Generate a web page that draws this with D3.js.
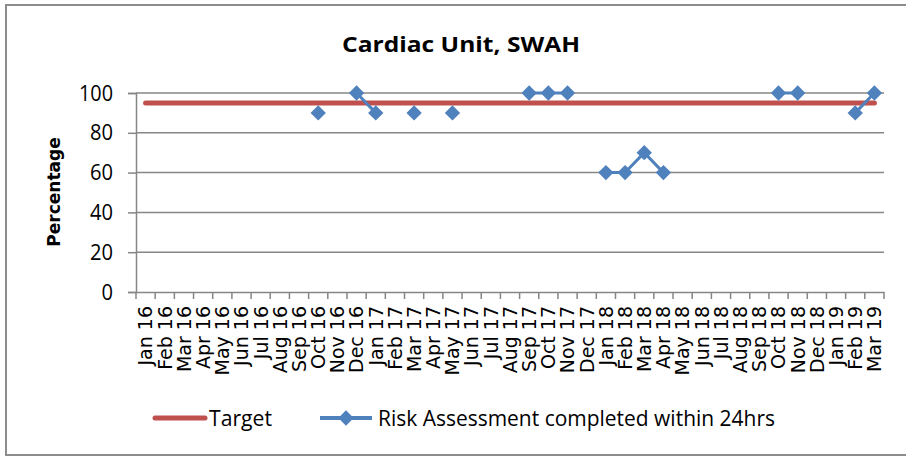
<!DOCTYPE html>
<html><head><meta charset="utf-8">
<script src="https://cdn.jsdelivr.net/npm/d3@7"></script>
<style>body{margin:0;background:#fff}svg{display:block}</style>
</head><body>
<svg id="c" width="906" height="457"></svg>
<script>
const categories = ["Jan 16","Feb 16","Mar 16","Apr 16","May 16","Jun 16","Jul 16","Aug 16","Sep 16","Oct 16","Nov 16","Dec 16",
"Jan 17","Feb 17","Mar 17","Apr 17","May 17","Jun 17","Jul 17","Aug 17","Sep 17","Oct 17","Nov 17","Dec 17",
"Jan 18","Feb 18","Mar 18","Apr 18","May 18","Jun 18","Jul 18","Aug 18","Sep 18","Oct 18","Nov 18","Dec 18",
"Jan 19","Feb 19","Mar 19"];
const riskValues = [null,null,null,null,null,null,null,null,null,90,null,100,
90,null,90,null,90,null,null,null,100,100,100,null,
60,60,70,60,null,null,null,null,null,100,100,null,
null,90,100];
const targetValues = categories.map(() => 95);
const yTicks = [0,20,40,60,80,100];
const title = "Cardiac Unit, SWAH";
const yTitle = "Percentage";
const seriesNames = ["Target","Risk Assessment completed within 24hrs"];

const svg = d3.select("#c");
svg.append("rect").attr("x",6).attr("y",5).attr("width",906).attr("height",450)
  .attr("fill","none").attr("stroke","#8c8c8c").attr("stroke-width",2);

const L=136, R=884, T=93, B=292;
const x = d3.scaleBand().domain(categories).range([L,R]).padding(0);
const y = d3.scaleLinear().domain([0,100]).range([B,T]);
const cx = d => x(d) + x.bandwidth()/2;

// gridlines
svg.append("g").selectAll("line").data(yTicks.filter(t=>t>0)).join("line")
  .attr("x1",L).attr("x2",R).attr("y1",d=>y(d)).attr("y2",d=>y(d))
  .attr("stroke","#868686").attr("stroke-width",1.5);

// y axis
const ya = svg.append("g").attr("transform",`translate(${L},0)`)
  .call(d3.axisLeft(y).tickValues(yTicks).tickSize(8).tickPadding(15));
ya.select(".domain").attr("stroke","#868686").attr("stroke-width",1.5);
ya.selectAll(".tick line").attr("stroke","#868686").attr("stroke-width",1.5);
ya.selectAll("text").attr("font-family","'Open Sans'").attr("font-size",22).attr("fill","#000")
  .attr("textLength",34).attr("lengthAdjust","spacingAndGlyphs")
  .each(function(d){ if(String(d).length<3) d3.select(this).attr("textLength",String(d).length*11.5); });

// x axis
const xa = svg.append("g").attr("transform",`translate(0,${B})`)
  .call(d3.axisBottom(x).tickSize(0).tickPadding(0));
xa.select(".domain").attr("stroke","#868686").attr("stroke-width",1.5);
xa.selectAll(".tick text").attr("font-family","'DejaVu Sans'").attr("font-size",19).attr("fill","#000")
  .attr("text-anchor","end").attr("transform","rotate(-90)").attr("x",-14).attr("dy","0.36em").attr("y",0);
const bounds = categories.map(c=>x(c)).concat([R]);
svg.append("g").selectAll("line").data(bounds).join("line")
  .attr("x1",d=>d).attr("x2",d=>d).attr("y1",B).attr("y2",B+7)
  .attr("stroke","#868686").attr("stroke-width",1.5);

// target line
svg.append("path").datum(categories.map((c,i)=>({c,v:targetValues[i]})))
  .attr("d",d3.line().x(d=>cx(d.c)).y(d=>y(d.v)))
  .attr("fill","none").attr("stroke","#C0504D").attr("stroke-width",5).attr("stroke-linecap","round");

// risk series
const rd = categories.map((c,i)=>({c,v:riskValues[i]}));
svg.append("path").datum(rd)
  .attr("d",d3.line().defined(d=>d.v!=null).x(d=>cx(d.c)).y(d=>y(d.v)))
  .attr("fill","none").attr("stroke","#4F81BD").attr("stroke-width",3);
const dia = d3.symbol().type(d3.symbolDiamond2).size(150);
svg.append("g").selectAll("path").data(rd.filter(d=>d.v!=null)).join("path")
  .attr("d",dia).attr("transform",d=>`translate(${cx(d.c)},${y(d.v)})`).attr("fill","#4F81BD");

// title
svg.append("text").attr("x",461).attr("y",52).attr("text-anchor","middle")
  .attr("font-family","'Open Sans'").attr("font-weight","bold").attr("font-size",22)
  .attr("textLength",238).attr("lengthAdjust","spacingAndGlyphs").text(title);
// y title
svg.append("text").attr("transform","translate(60,192) rotate(-90)").attr("text-anchor","middle")
  .attr("font-family","'DejaVu Sans'").attr("font-weight","bold").attr("font-size",17).text(yTitle);

// legend
const lg = svg.append("g");
lg.append("line").attr("x1",155).attr("x2",205).attr("y1",418).attr("y2",418)
  .attr("stroke","#C0504D").attr("stroke-width",5).attr("stroke-linecap","round");
lg.append("text").attr("x",209).attr("y",426).attr("font-family","'Open Sans'").attr("font-size",21)
  .attr("textLength",63).attr("lengthAdjust","spacingAndGlyphs").text(seriesNames[0]);
lg.append("line").attr("x1",320).attr("x2",372).attr("y1",418).attr("y2",418)
  .attr("stroke","#4F81BD").attr("stroke-width",4);
lg.append("path").attr("d",dia).attr("transform","translate(346,418)").attr("fill","#4F81BD");
lg.append("text").attr("x",378).attr("y",426).attr("font-family","'Open Sans'").attr("font-size",21)
  .attr("textLength",397).attr("lengthAdjust","spacingAndGlyphs").text(seriesNames[1]);
</script>
</body></html>
